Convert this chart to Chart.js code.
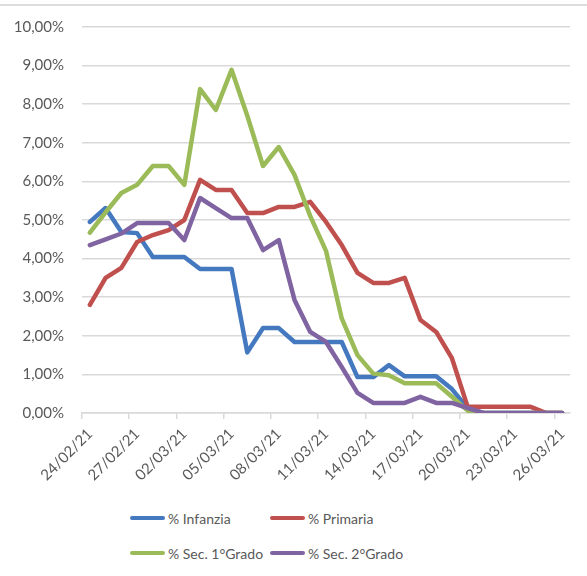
<!DOCTYPE html>
<html>
<head>
<meta charset="utf-8">
<script src="https://cdn.jsdelivr.net/npm/chart.js@4.4.1/dist/chart.umd.min.js"></script>
<style>
	body { margin: 0; background: #fff; font-family: Lato, 'Open Sans', sans-serif; }
	#wrap { position: relative; width: 587px; height: 576px; overflow: hidden; }
	#topline { position: absolute; left: 0; top: 4px; width: 587px; border-top: 2px solid #dcdcdc; }
	#chart { position: absolute; left: 0; top: 0; }
	.leg { position: absolute; display: flex; align-items: center; font-size: 14px; color: #595959; white-space: nowrap; }
	.leg span.swatch { display: inline-block; width: 35px; height: 4px; border-radius: 2px; margin-right: 3px; }
</style>
</head>
<body>
<div id="wrap">
	<div id="topline"></div>
	<canvas id="chart" width="587" height="500"></canvas>
	<div id="legend"></div>
</div>
<script>
/* data, values in % */
const dates = ['24/02/21', '25/02/21', '26/02/21', '27/02/21', '28/02/21', '01/03/21', '02/03/21', '03/03/21',
	'04/03/21', '05/03/21', '06/03/21', '07/03/21', '08/03/21', '09/03/21', '10/03/21', '11/03/21',
	'12/03/21', '13/03/21', '14/03/21', '15/03/21', '16/03/21', '17/03/21', '18/03/21', '19/03/21',
	'20/03/21', '21/03/21', '22/03/21', '23/03/21', '24/03/21', '25/03/21', '26/03/21']

const infanzia = [4.95, 5.31, 4.69, 4.66, 4.04, 4.04, 4.04, 3.73, 3.73, 3.73, 1.57, 2.2, 2.2, 1.84, 1.84, 1.84,
	1.84, 0.93, 0.93, 1.24, 0.95, 0.95, 0.95, 0.62, 0.12, 0, 0, 0, 0, 0, 0]
const primaria = [2.8, 3.5, 3.76, 4.43, 4.61, 4.74, 5.0, 6.04, 5.78, 5.78, 5.18, 5.18, 5.34, 5.34, 5.47, 4.95,
	4.35, 3.63, 3.37, 3.37, 3.5, 2.41, 2.1, 1.42, 0.16, 0.16, 0.16, 0.16, 0.16, 0, 0]
const sec1 = [4.67, 5.2, 5.7, 5.91, 6.4, 6.4, 5.91, 8.39, 7.85, 8.89, 7.7, 6.4, 6.89, 6.17, 5.1, 4.2,
	2.45, 1.5, 1.02, 0.98, 0.77, 0.77, 0.77, 0.42, 0.06, 0, 0, 0, 0, 0, 0]
const sec2 = [4.35, 4.5, 4.65, 4.92, 4.92, 4.92, 4.48, 5.57, 5.31, 5.05, 5.05, 4.22, 4.48, 2.93, 2.1, 1.84,
	1.19, 0.52, 0.26, 0.26, 0.26, 0.42, 0.26, 0.26, 0.13, 0, 0, 0, 0, 0, 0]

const seriesNames = ['% Infanzia', '% Primaria', '% Sec. 1°Grado', '% Sec. 2°Grado']
const seriesColors = ['#4479c0', '#c0504d', '#9bbb59', '#8064a2']
const yTicks = [0, 1, 2, 3, 4, 5, 6, 7, 8, 9, 10]

const textColor = '#595959'
const gridColor = '#d9d9d9'

const fmt = (v) => v.toFixed(2).replace('.', ',') + '%'

const datasets = [infanzia, primaria, sec1, sec2].map((values, i) => ({
	label: seriesNames[i],
	data: values,
	borderColor: seriesColors[i],
	backgroundColor: seriesColors[i],
	borderWidth: 4.5,
	pointRadius: 0,
	tension: 0,
	borderJoinStyle: 'round',
	borderCapStyle: 'round',
	order: 4 - i // later series on top, like excel
}))

const chart = new Chart(document.getElementById('chart'), {
	type: 'line',
	data: { labels: dates, datasets: datasets },
	options: {
		responsive: false,
		animation: false,
		devicePixelRatio: 1,
		layout: { padding: { top: 27, right: 17, left: 0, bottom: 0 } },
		plugins: { legend: { display: false }, tooltip: { enabled: false } },
		scales: {
			x: {
				offset: true,
				afterFit: (scale) => { scale.height = 87 },
				grid: {
					offset: true,
					drawOnChartArea: false,
					tickLength: 6,
					lineWidth: 1.5,
					color: (ctx) => (ctx.index % 3 === 0 ? gridColor : 'transparent')
				},
				border: { display: true, color: gridColor, width: 1.5 },
				ticks: {
					autoSkip: false,
					maxRotation: 45,
					minRotation: 45,
					padding: 6,
					color: textColor,
					font: { family: 'Lato', size: 15 },
					callback: (val, index) => (index % 3 === 0 ? dates[index] : '')
				}
			},
			y: {
				min: yTicks[0],
				max: yTicks[yTicks.length - 1],
				afterFit: (scale) => { scale.width = 82 },
				afterBuildTicks: (scale) => { scale.ticks = yTicks.map((v) => ({ value: v })) },
				grid: { color: gridColor, lineWidth: 1.5, drawTicks: false },
				border: { display: false },
				ticks: {
					padding: 18,
					color: textColor,
					font: { family: 'Lato', size: 15 },
					callback: (val) => fmt(val)
				}
			}
		}
	}
})

/* legend, 2 per row like the original */
document.getElementById('legend').innerHTML = chart.data.datasets
	.map(({ label, borderColor }, index) => {
		const left = index % 2 === 0 ? 130 : 270
		const top = index < 2 ? 508 : 543
		return `<div class="leg" style="left:${left}px;top:${top}px;height:20px">
			<span class="swatch" style="background:${borderColor}"></span>${label}</div>`
	})
	.join('')
</script>
</body>
</html>
